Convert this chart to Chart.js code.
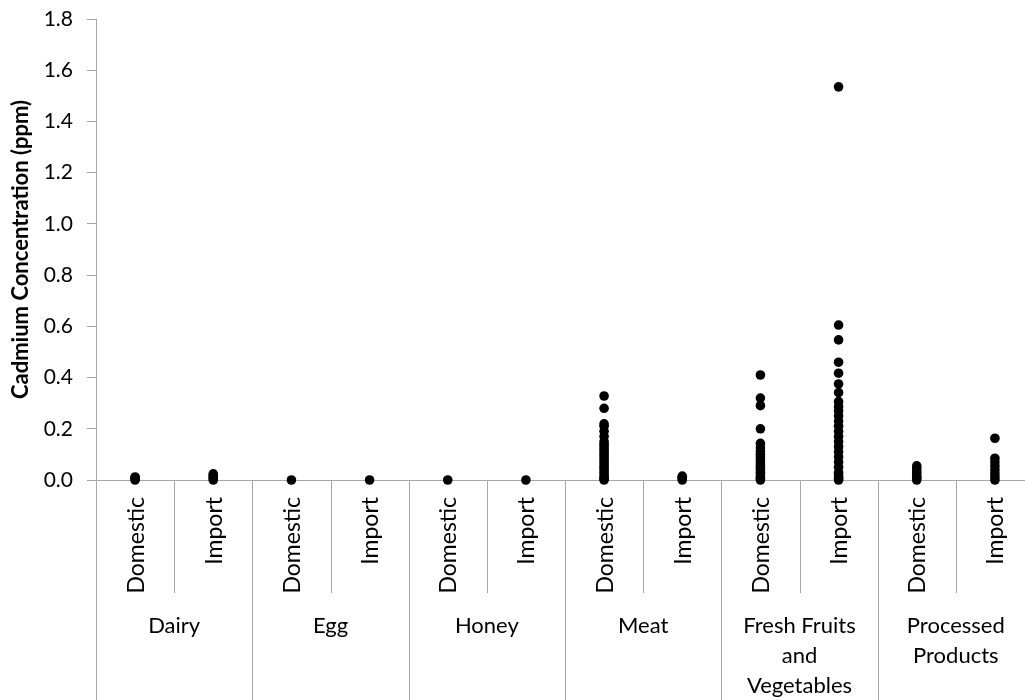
<!DOCTYPE html>
<html lang="en">
<head>
<meta charset="UTF-8">
<title>Cadmium Concentration</title>
<script src="https://cdn.jsdelivr.net/npm/chart.js"></script>
<style>
  html, body { margin: 0; padding: 0; background: #fff; overflow: hidden; }
  #wrap { width: 1040px; height: 700px; position: relative; }
</style>
</head>
<body>
<div id="wrap"><canvas id="cadChart"></canvas></div>
<script>
// sub-category labels (one per column) and group labels (two columns each)
const sources = ['Domestic', 'Import', 'Domestic', 'Import', 'Domestic', 'Import',
                 'Domestic', 'Import', 'Domestic', 'Import', 'Domestic', 'Import'];
const groups = [['Dairy'], ['Egg'], ['Honey'], ['Meat'],
                ['Fresh Fruits', 'and', 'Vegetables'], ['Processed', 'Products']];
const yTicks = [0, 0.2, 0.4, 0.6, 0.8, 1.0, 1.2, 1.4, 1.6, 1.8];

const dairyDomestic = [0, 0.004, 0.008, 0.012];
const dairyImport = [0, 0.006, 0.012, 0.018, 0.024];
const eggDomestic = [0];
const eggImport = [0];
const honeyDomestic = [0];
const honeyImport = [0];
const meatDomestic = [0.328, 0.28, 0.219, 0.21, 0.19, 0.17, 0.15, 0.14, 0.13, 0.12, 0.11, 0.1,
                      0.09, 0.08, 0.07, 0.06, 0.05, 0.04, 0.03, 0.02, 0.01, 0.005, 0];
const meatImport = [0, 0.005, 0.01, 0.015];
const freshDomestic = [0.41, 0.32, 0.29, 0.2, 0.143, 0.125, 0.11, 0.1, 0.09, 0.08, 0.07, 0.06,
                       0.05, 0.04, 0.03, 0.02, 0.01, 0.005, 0];
const freshImport = [1.535, 0.605, 0.547, 0.46, 0.417, 0.375, 0.341, 0.306, 0.286, 0.27, 0.25,
                     0.23, 0.21, 0.19, 0.17, 0.15, 0.13, 0.11, 0.09, 0.07, 0.05, 0.03, 0.02,
                     0.01, 0.005, 0];
const processedDomestic = [0.055, 0.045, 0.035, 0.025, 0.015, 0.008, 0];
const processedImport = [0.163, 0.085, 0.07, 0.055, 0.04, 0.025, 0.012, 0];

const columns = [dairyDomestic, dairyImport, eggDomestic, eggImport, honeyDomestic, honeyImport,
                 meatDomestic, meatImport, freshDomestic, freshImport, processedDomestic, processedImport];

const points = [];
columns.forEach((vals, i) => {
  vals.forEach(v => points.push({ x: i, y: v }));
});

const gray = '#a6a6a6';
const font = 'Lato, "Open Sans", sans-serif';

// draws the two-level category axis below the plot
const groupAxis = {
  id: 'groupAxis',
  afterDraw(chart) {
    const ctx = chart.ctx;
    const xs = chart.scales.x;
    const bottom = chart.chartArea.bottom;
    ctx.save();
    ctx.strokeStyle = gray;
    ctx.lineWidth = 1;
    // separators
    for (let i = 0; i <= sources.length; i++) {
      const px = Math.round(xs.getPixelForValue(i - 0.5)) + 0.5;
      ctx.beginPath();
      ctx.moveTo(px, bottom);
      ctx.lineTo(px, i % 2 === 0 ? 700 : bottom + 113);
      ctx.stroke();
    }
    ctx.fillStyle = '#000';
    ctx.font = '23px ' + font;
    // rotated source labels
    sources.forEach((s, i) => {
      const px = xs.getPixelForValue(i);
      ctx.save();
      ctx.translate(px + 1, bottom + 17);
      ctx.rotate(-Math.PI / 2);
      ctx.textAlign = 'right';
      ctx.textBaseline = 'middle';
      ctx.fillText(s, 0, 0);
      ctx.restore();
    });
    // group labels
    ctx.font = '22px ' + font;
    ctx.textAlign = 'center';
    ctx.textBaseline = 'middle';
    groups.forEach((lines, g) => {
      const px = xs.getPixelForValue(g * 2 + 0.5);
      lines.forEach((t, k) => {
        ctx.fillText(t, px, bottom + 146 + k * 30);
      });
    });
    ctx.restore();
  }
};

new Chart(document.getElementById('cadChart').getContext('2d'), {
  type: 'scatter',
  data: {
    datasets: [{
      data: points,
      backgroundColor: '#000',
      borderWidth: 0,
      pointRadius: 4.8,
      clip: false
    }]
  },
  options: {
    responsive: true,
    maintainAspectRatio: false,
    animation: false,
    layout: { padding: { top: 19, right: 6, left: 0, bottom: 0 } },
    plugins: { legend: { display: false }, tooltip: { enabled: false } },
    scales: {
      x: {
        type: 'linear',
        min: -0.5,
        max: 11.5,
        ticks: { display: false },
        grid: { display: false },
        border: { display: true, color: gray, width: 1 },
        afterFit: (s) => { s.height = 220; }
      },
      y: {
        min: 0,
        max: 1.8,
        afterBuildTicks: (s) => { s.ticks = yTicks.map(v => ({ value: v })); },
        ticks: {
          color: '#000',
          padding: 14,
          font: { family: font, size: 21 },
          callback: (v) => v.toFixed(1)
        },
        grid: { drawOnChartArea: false, drawTicks: true, tickLength: 9, color: gray },
        border: { display: true, color: gray, width: 1 },
        title: {
          display: true,
          text: 'Cadmium Concentration (ppm)',
          color: '#000',
          font: { family: font, size: 22, weight: 'bold' },
          padding: { top: 8, bottom: 0 }
        },
        afterFit: (s) => {
          s.width = 96;
          s.paddingTop = 0;
          s.paddingBottom = 0;
        }
      }
    }
  },
  plugins: [groupAxis]
});
</script>
</body>
</html>
